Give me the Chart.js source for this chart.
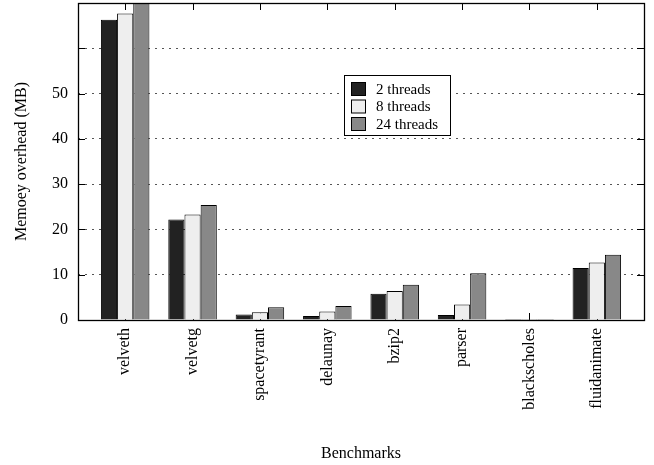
<!DOCTYPE html>
<html>
<head>
<meta charset="utf-8">
<script src="https://cdn.jsdelivr.net/npm/chart.js@4/dist/chart.umd.min.js"></script>
<style>
  html, body { margin: 0; padding: 0; background: #fff; }
  #wrap { width: 654px; height: 465px; }
</style>
</head>
<body>
<div id="wrap"><canvas id="c" width="654" height="465"></canvas></div>
<script>
const categories = ["velveth", "velvetg", "spacetyrant", "delaunay", "bzip2", "parser", "blackscholes", "fluidanimate"];
const threads2  = [66.3, 22.2, 1.2, 0.9, 5.8, 1.1, 0.2, 11.5];
const threads8  = [67.7, 23.3, 1.7, 1.9, 6.4, 3.4, 0.2, 12.7];
const threads24 = [71.0, 25.4, 2.8, 3.1, 7.8, 10.3, 0.2, 14.4];
const seriesLabels = ["2 threads", "8 threads", "24 threads"];
const yTickValues = [0, 10, 20, 30, 40, 50, 60, 70];
const yLabeledMax = 50;

const FONT = '"Liberation Serif", "Times New Roman", serif';

function toPoints(arr) { return arr.map((v, i) => ({ x: i, y: v })); }

const frameAndTicks = {
  id: 'frameAndTicks',
  beforeDatasetsDraw(chart) {
    const { ctx, chartArea: a, scales } = chart;
    ctx.save();
    ctx.strokeStyle = '#000';
    ctx.lineWidth = 1;
    ctx.beginPath();
    categories.forEach((_, i) => {
      const x = Math.round(scales.x.getPixelForValue(i)) + 0.5;
      ctx.moveTo(x, a.bottom); ctx.lineTo(x, a.bottom - 7);
      ctx.moveTo(x, a.top); ctx.lineTo(x, a.top + 7);
    });
    yTickValues.forEach(v => {
      const y = Math.round(scales.y.getPixelForValue(v)) + 0.5;
      ctx.moveTo(a.left, y); ctx.lineTo(a.left + 7, y);
      ctx.moveTo(a.right, y); ctx.lineTo(a.right - 7, y);
    });
    ctx.stroke();
    ctx.restore();
  },
  afterDatasetsDraw(chart) {
    const { ctx, chartArea: a } = chart;
    ctx.save();
    ctx.strokeStyle = '#000';
    ctx.lineWidth = 1.3;
    ctx.strokeRect(Math.round(a.left) + 0.5, Math.round(a.top) + 0.5,
                   Math.round(a.right - a.left), Math.round(a.bottom - a.top));
    ctx.restore();
  }
};

const boxLegend = {
  id: 'boxLegend',
  afterDraw(chart) {
    const { ctx } = chart;
    const x0 = 344.5, y0 = 75.5, w = 106, h = 60;
    ctx.save();
    ctx.fillStyle = '#fff';
    ctx.fillRect(x0, y0, w, h);
    ctx.strokeStyle = '#000';
    ctx.lineWidth = 1;
    ctx.strokeRect(x0, y0, w, h);
    ctx.font = '15px ' + FONT;
    ctx.textBaseline = 'middle';
    ctx.textAlign = 'left';
    chart.data.datasets.forEach((ds, i) => {
      const cy = 89 + i * 17.5;
      ctx.fillStyle = ds.backgroundColor;
      ctx.fillRect(351.5, cy - 6.5, 14, 13);
      ctx.strokeStyle = '#000';
      ctx.strokeRect(351.5, cy - 6.5, 14, 13);
      ctx.fillStyle = '#000';
      ctx.fillText(ds.label, 376, cy + 1);
    });
    ctx.restore();
  }
};

const colors = ['#222222', '#eeeeee', '#888888'];
const seriesData = [threads2, threads8, threads24];

new Chart(document.getElementById('c'), {
  type: 'bar',
  data: {
    datasets: seriesData.map((arr, i) => ({
      label: seriesLabels[i],
      data: toPoints(arr),
      backgroundColor: colors[i],
      borderColor: '#000',
      borderWidth: 1,
      categoryPercentage: 0.72,
      barPercentage: 1.0
    }))
  },
  options: {
    responsive: false,
    animation: false,
    devicePixelRatio: 1,
    layout: { padding: { top: 3, right: 10, left: 0, bottom: 0 } },
    plugins: {
      legend: { display: false },
      tooltip: { enabled: false }
    },
    scales: {
      x: {
        type: 'linear',
        offset: false,
        min: -0.7,
        max: 7.7,
        afterBuildTicks(scale) { scale.ticks = categories.map((_, i) => ({ value: i })); },
        afterFit(scale) { scale.height = 145; scale.paddingLeft = 0; scale.paddingRight = 0; },
        grid: { display: false, drawTicks: false, offset: false },
        border: { display: false },
        ticks: {
          autoSkip: false,
          maxRotation: 90,
          minRotation: 90,
          padding: 8,
          color: '#000',
          font: { family: FONT, size: 16 },
          callback: (v) => categories[v] ?? ''
        },
        title: {
          display: true,
          text: 'Benchmarks',
          color: '#000',
          font: { family: FONT, size: 16 },
          padding: { top: 0, bottom: 2 }
        }
      },
      y: {
        min: 0,
        max: 70,
        afterBuildTicks(scale) { scale.ticks = yTickValues.map(v => ({ value: v })); },
        afterFit(scale) { scale.width = 78; scale.paddingTop = 0; scale.paddingBottom = 0; },
        grid: {
          drawTicks: false,
          color: '#555',
          lineWidth: 1,
          borderDash: [2, 5]
        },
        border: { display: false, dash: [2, 5] },
        ticks: {
          padding: 10,
          color: '#000',
          font: { family: FONT, size: 16 },
          callback: (v) => (v <= yLabeledMax ? String(v) : '')
        },
        title: {
          display: true,
          text: 'Memoey overhead (MB)',
          color: '#000',
          font: { family: FONT, size: 16 },
          padding: { top: 12, bottom: 0 }
        }
      }
    }
  },
  plugins: [frameAndTicks, boxLegend]
});
</script>
</body>
</html>
